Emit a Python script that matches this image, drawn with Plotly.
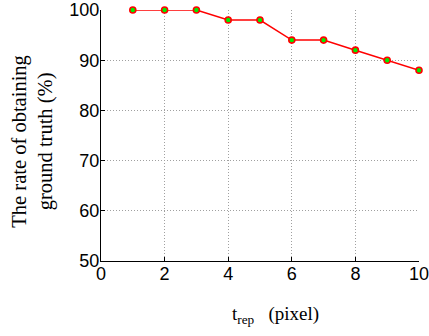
import plotly.graph_objects as go

x_vals = [1, 2, 3, 4, 5, 6, 7, 8, 9, 10]
rate = [100, 100, 100, 98, 98, 94, 94, 92, 90, 88]
x_ticks = [0, 2, 4, 6, 8, 10]
y_ticks = [50, 60, 70, 80, 90, 100]

fig = go.Figure()
fig.add_trace(go.Scatter(
    x=x_vals, y=rate, mode="lines+markers",
    line=dict(color="#ff0000", width=1.5),
    marker=dict(size=6, color="#00ee00", line=dict(color="#ff0000", width=1.6)),
    cliponaxis=False, hoverinfo="skip",
))

tickfont = dict(family="Liberation Sans, Arial", size=18, color="black")
grid_dash = "1px,2px"

fig.update_layout(
    width=429, height=336,
    margin=dict(l=101, r=10, t=10, b=75),
    paper_bgcolor="white", plot_bgcolor="white",
    showlegend=False,
    hovermode=False,
    xaxis=dict(
        range=[0, 10], tickvals=x_ticks, ticktext=[str(v) for v in x_ticks],
        showgrid=True, gridcolor="#a0a0a0", griddash=grid_dash, gridwidth=1,
        showline=True, linecolor="black", linewidth=1.2,
        ticks="inside", ticklen=4, tickcolor="black",
        zeroline=False, automargin=False,
        tickfont=tickfont, ticklabelstandoff=-4, ticklabeloverflow="allow",
    ),
    yaxis=dict(
        range=[50, 100], tickvals=y_ticks, ticktext=[str(v) for v in y_ticks],
        showgrid=True, gridcolor="#a0a0a0", griddash=grid_dash, gridwidth=1,
        showline=True, linecolor="black", linewidth=1.2,
        ticks="inside", ticklen=4, tickcolor="black",
        zeroline=False, automargin=False,
        tickfont=tickfont, ticklabelstandoff=-3, ticklabeloverflow="allow",
    ),
    annotations=[
        dict(text="The rate of obtaining<br>ground truth (%)", textangle=-90,
             xref="paper", yref="paper", x=-0.215, y=0.474,
             xanchor="center", yanchor="middle", showarrow=False,
             font=dict(family="Liberation Serif, Times New Roman", size=20.5, color="black")),
        dict(text="t<sub>rep</sub>   (pixel)",
             xref="paper", yref="paper", x=0.55, y=-0.215,
             xanchor="center", yanchor="middle", showarrow=False,
             font=dict(family="Liberation Serif, Times New Roman", size=19, color="black")),
    ],
)

fig.write_html("out.html", config={"displayModeBar": False},
               post_script="document.body.style.margin='0';")
